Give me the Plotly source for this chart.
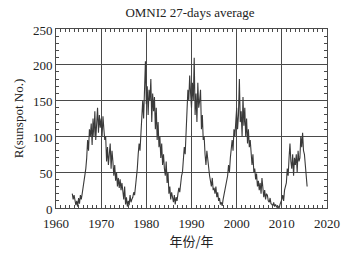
import numpy as np
import plotly.graph_objects as go

start_year = 1963.6
step = 0.2
sunspot = [
    20, 12,
    18, 8, 4, 10, 2,
    14, 6, 18, 12, 20,
    28, 42, 45, 55, 70,
    95, 80, 110, 100, 118,
    88, 125, 100, 135, 95,
    120, 140, 105, 130, 112,
    125, 100, 128, 110, 95,
    100, 65, 85, 60, 75,
    90, 55, 80, 65, 45,
    60, 38, 50, 30, 42,
    28, 40, 25, 35, 18,
    12, 30, 5, 15, 2,
    10, 4, 18, 8, 12,
    15, 22, 18, 30, 40,
    55, 75, 90, 80, 110,
    130, 150, 125, 175, 205,
    145, 170, 130, 165, 150,
    180, 120, 160, 135, 155,
    110, 140, 95, 120, 85,
    100, 70, 90, 60, 75,
    55, 45, 65, 35, 50,
    20, 30, 12, 22, 15,
    8, 18, 5, 15, 10,
    20, 28, 22, 35, 45,
    50, 70, 85, 75, 105,
    130, 165, 150, 185, 160,
    140, 175, 150, 210, 130,
    160, 120, 175, 140, 150,
    165, 110, 130, 95, 100,
    75, 60, 80, 65, 55,
    45, 38, 30, 42, 25,
    28, 20, 30, 15, 22,
    10, 14, 5, 8, 3,
    12, 18, 25, 30, 40,
    45, 60, 50, 70, 85,
    95, 80, 110, 100, 120,
    140, 110, 130, 180, 120,
    135, 100, 155, 115, 140,
    100, 125, 90, 110, 85,
    95, 70, 60, 75, 50,
    55, 40, 48, 30, 38,
    25, 35, 20, 42, 28,
    15, 25, 12, 20, 18,
    10, 8, 14, 6, 5,
    3, 8, 2, 5, 1,
    0, 2, 0, 5, 8,
    12, 18, 10, 25, 30,
    35, 55, 45, 70, 90,
    65, 55, 75, 45, 70,
    60, 75, 50, 80, 65,
    70, 100, 85, 105, 80,
    75, 60, 45, 30,
]
years = start_year + step * np.arange(len(sunspot))

title_text = "OMNI2 27-days average"
x_title = "年份/年"
y_title = "R(sunspot No.)"
x_ticks = [1960, 1970, 1980, 1990, 2000, 2010, 2020]
y_ticks = [0, 50, 100, 150, 200, 250]

serif = "Liberation Serif, Times New Roman, serif"
grid_c = "#4a4a4a"

fig = go.Figure(go.Scatter(x=years, y=sunspot, mode="lines",
                           line=dict(color="#3a3a3a", width=1.1)))

fig.update_layout(
    width=352, height=256,
    margin=dict(l=56, r=25, t=29, b=48, autoexpand=False),
    paper_bgcolor="white", plot_bgcolor="white",
    showlegend=False,
    title=dict(text=title_text, x=190 / 352, xanchor="center", xref="container",
               y=1 - 12 / 256, yanchor="middle", yref="container",
               automargin=False,
               font=dict(family=serif, size=13, color="#222")),
    font=dict(family=serif, size=13, color="#222"),
)
fig.update_xaxes(
    range=[1960, 2020], tickvals=x_ticks, ticks="inside", ticklen=4,
    tickcolor=grid_c, showgrid=True, gridcolor=grid_c, gridwidth=1,
    showline=True, linecolor=grid_c, linewidth=1, mirror="ticks",
    zeroline=False, automargin=False, ticklabelstandoff=3,
    minor=dict(dtick=1, ticks="inside", ticklen=3, tickcolor=grid_c, showgrid=False),
    title=dict(text=x_title, font=dict(family="Noto Sans CJK SC", size=13), standoff=1),
    tickfont=dict(family=serif, size=13),
)
fig.update_yaxes(
    range=[0, 250], tickvals=y_ticks, ticks="inside", ticklen=4,
    tickcolor=grid_c, showgrid=True, gridcolor=grid_c, gridwidth=1,
    showline=True, linecolor=grid_c, linewidth=1, mirror="ticks",
    zeroline=False, automargin=False, ticklabelshift=1,
    minor=dict(dtick=10, ticks="inside", ticklen=3, tickcolor=grid_c, showgrid=False),
    title=dict(text=y_title, font=dict(family=serif, size=13), standoff=6),
    tickfont=dict(family=serif, size=13),
)
fig.write_html(
    "out.html",
    config={"displayModeBar": False},
    post_script="document.body.style.margin='0';document.body.style.overflow='hidden';",
)
